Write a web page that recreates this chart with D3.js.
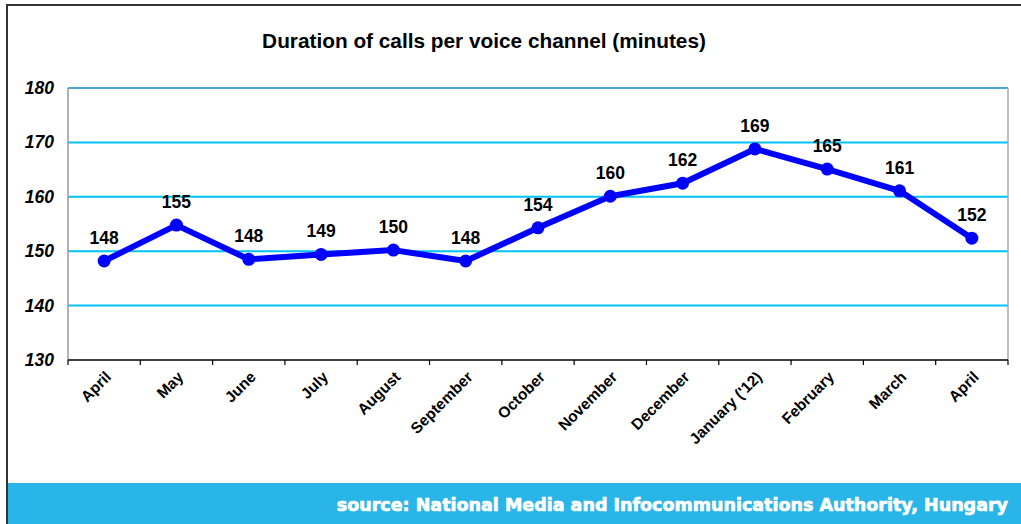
<!DOCTYPE html>
<html><head><meta charset="utf-8">
<script src="https://cdn.jsdelivr.net/npm/d3@7"></script>
<style>body{margin:0;background:#fff}svg{display:block}</style>
</head><body>
<svg id="c" width="1021" height="524"></svg>
<script>
const categories = ["April","May","June","July","August","September","October","November","December","January ('12)","February","March","April"];
const values = [148.2,154.8,148.5,149.4,150.2,148.2,154.3,160.1,162.5,168.8,165.1,161.1,152.4];
const labels = ["148","155","148","149","150","148","154","160","162","169","165","161","152"];
const yTicks = [130,140,150,160,170,180];

const svg = d3.select("#c");
const W=1021,H=524;
const m={l:68,r:1008,t:88,b:360};
// frame
svg.append("rect").attr("x",7).attr("y",5).attr("width",W+10).attr("height",H).attr("fill","none").attr("stroke","#333").attr("stroke-width",2);
// footer band
svg.append("rect").attr("x",8).attr("y",483).attr("width",W-8).attr("height",H-483).attr("fill","#29b5e8");
svg.append("text").attr("x",1008).attr("y",511).attr("text-anchor","end")
  .attr("font-family","DejaVu Sans, Verdana, sans-serif").attr("font-weight","bold").attr("font-size",17.5)
  .attr("fill","#fff").attr("stroke","#fff").attr("stroke-width",0.7)
  .text("source: National Media and Infocommunications Authority, Hungary");

const x=d3.scaleBand().domain(d3.range(categories.length)).range([m.l,m.r]);
const y=d3.scaleLinear().domain([130,180]).range([m.b,m.t]);

// title
svg.append("text").attr("x",484).attr("y",48).attr("text-anchor","middle")
  .attr("font-family","Liberation Sans, Arial, sans-serif").attr("font-weight","bold").attr("font-size",20.8)
  .attr("fill","#000").text("Duration of calls per voice channel (minutes)");

// grid
const g=svg.append("g");
g.selectAll("line.grid").data(yTicks.filter(d=>d>130)).join("line")
  .attr("x1",m.l).attr("x2",m.r).attr("y1",d=>y(d)).attr("y2",d=>y(d))
  .attr("stroke",d=>d===180?"#4aa9cc":"#00c3f5").attr("stroke-width",2);
g.append("line").attr("x1",m.r).attr("x2",m.r).attr("y1",m.t).attr("y2",m.b).attr("stroke","#aaa").attr("stroke-width",1.5);
g.append("line").attr("x1",m.l).attr("x2",m.l).attr("y1",m.t).attr("y2",m.b).attr("stroke","#999").attr("stroke-width",1.5);
g.selectAll("text.yl").data(yTicks).join("text")
  .attr("x",54).attr("y",d=>y(d)+6).attr("text-anchor","end")
  .attr("font-family","Liberation Sans, Arial, sans-serif").attr("font-weight","bold").attr("font-style","italic")
  .attr("font-size",17.5).attr("fill","#000").text(d=>d);
// bottom axis
const xa=d3.axisBottom(x).tickSize(0).tickFormat(i=>categories[i]);
const ax=svg.append("g").attr("transform",`translate(0,${m.b})`).call(xa);
ax.select(".domain").remove();
svg.append("line").attr("x1",m.l).attr("x2",m.r).attr("y1",m.b).attr("y2",m.b).attr("stroke","#000").attr("stroke-width",1.5);
const tickPos=d3.range(categories.length+1).map(i=>m.l+i*x.step());
svg.selectAll("line.tk").data(tickPos).join("line")
  .attr("x1",d=>d).attr("x2",d=>d).attr("y1",m.b).attr("y2",m.b+5).attr("stroke","#000").attr("stroke-width",1.2);
ax.selectAll(".tick text")
  .attr("font-family","Liberation Sans, Arial, sans-serif").attr("font-weight","bold").attr("font-size",15.5)
  .attr("fill","#000").attr("text-anchor","end").attr("dy",null).attr("y",0)
  .attr("transform","translate(8,18) rotate(-45)");

// line
const line=d3.line().x((d,i)=>x(i)+x.bandwidth()/2).y(d=>y(d));
svg.append("path").datum(values).attr("d",line).attr("fill","none").attr("stroke","#0000ff").attr("stroke-width",6).attr("stroke-linejoin","round");
svg.selectAll("circle.pt").data(values).join("circle")
  .attr("cx",(d,i)=>x(i)+x.bandwidth()/2).attr("cy",d=>y(d)).attr("r",6.5).attr("fill","#0000ff");
svg.selectAll("text.dl").data(values).join("text")
  .attr("x",(d,i)=>x(i)+x.bandwidth()/2).attr("y",d=>y(d)-17).attr("text-anchor","middle")
  .attr("font-family","Liberation Sans, Arial, sans-serif").attr("font-weight","bold").attr("font-size",17.5)
  .attr("fill","#000").text((d,i)=>labels[i]);
</script>
</body></html>
